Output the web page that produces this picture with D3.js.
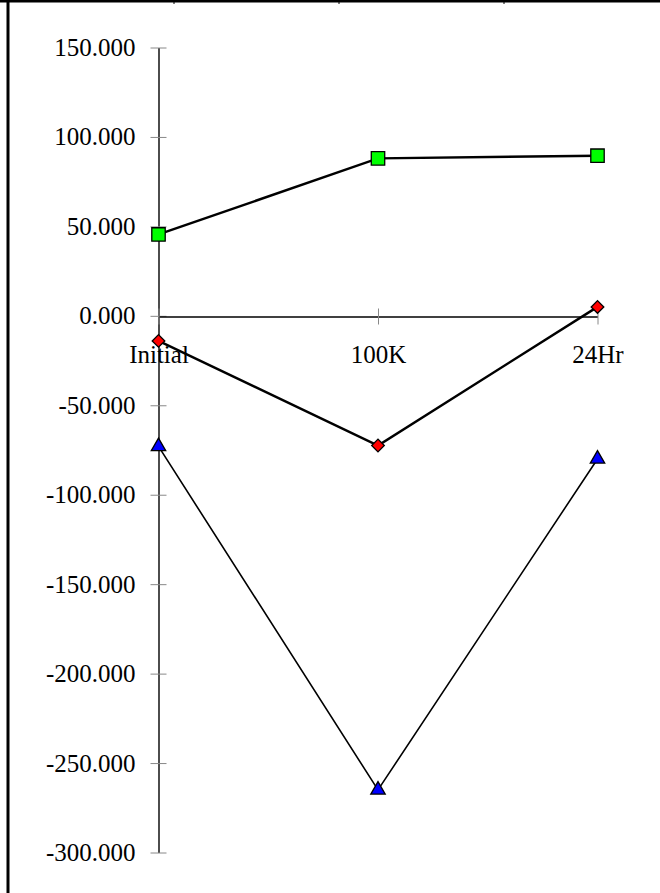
<!DOCTYPE html>
<html>
<head>
<meta charset="utf-8">
<script src="https://cdn.jsdelivr.net/npm/d3@7/dist/d3.min.js"></script>
<style>
  html, body { margin: 0; padding: 0; background: #fff; }
  svg { display: block; }
  .axis text { font-family: "Liberation Serif", "Times New Roman", serif; font-size: 25px; fill: #000; }
</style>
</head>
<body>
<div id="chart"></div>
<script>
var categories = ["Initial", "100K", "24Hr"];
var greenValues = [45.5, 88, 89.5];
var redValues = [-14, -72.5, 5];
var blueValues = [-73, -265, -80];
var yTicks = [150, 100, 50, 0, -50, -100, -150, -200, -250, -300];
var cellMarks = [174, 339, 504];

(function() {
  var W = 660, H = 893, svg, x, y, yAxis, xAxis, series, line, fmt;

  svg = d3.select("#chart").append("svg").attr("width", W).attr("height", H);
  svg.append("rect").attr("width", W).attr("height", H).attr("fill", "#fff");

  // sheet borders
  svg.append("line").attr("x1", 0).attr("x2", W).attr("y1", 1).attr("y2", 1)
    .attr("stroke", "#000").attr("stroke-width", 3);
  svg.append("line").attr("x1", 8).attr("x2", 8).attr("y1", 0).attr("y2", H)
    .attr("stroke", "#000").attr("stroke-width", 3);
  svg.selectAll(".cell-mark").data(cellMarks).enter().append("line")
    .attr("class", "cell-mark")
    .attr("x1", function(d) { return d; }).attr("x2", function(d) { return d; })
    .attr("y1", 0).attr("y2", 4).attr("stroke", "#000").attr("stroke-width", 1);

  x = d3.scalePoint().domain(categories).range([158.5, 597.5]);
  y = d3.scaleLinear().domain([-300, 150]).range([852.5, 47.5]);

  // plain hyphen instead of d3's unicode minus
  fmt = d3.formatLocale({ decimal: ".", thousands: ",", grouping: [3], currency: ["", ""], minus: "-" }).format(".3f");

  yAxis = d3.axisLeft(y).tickValues(yTicks).tickFormat(fmt)
    .tickSizeInner(8).tickSizeOuter(0).tickPadding(15);
  svg.append("g").attr("class", "axis").attr("transform", "translate(" + x(categories[0]) + ",0)")
    .call(yAxis)
    .call(function(g) {
      g.select(".domain").attr("stroke", "#000").attr("stroke-width", 1.4);
      g.selectAll(".tick line").attr("x1", 8).attr("x2", -8).attr("stroke", "#888");
    });

  xAxis = d3.axisBottom(x).tickSizeInner(8).tickSizeOuter(0).tickPadding(21);
  svg.append("g").attr("class", "axis").attr("transform", "translate(0," + (Math.round(y(0)) + 0.5) + ")")
    .call(xAxis)
    .call(function(g) {
      g.select(".domain").attr("stroke", "#000").attr("stroke-width", 1.4);
      g.selectAll(".tick line").attr("y1", -8).attr("y2", 8).attr("stroke", "#888");
    });

  series = [
    { values: blueValues, color: "#0000ff", shape: d3.symbolTriangle, size: 90, width: 1.6 },
    { values: redValues, color: "#ff0000", shape: d3.symbolDiamond, size: 80, width: 2.4, rotate: true },
    { values: greenValues, color: "#00ff00", shape: d3.symbolSquare, size: 180, width: 2.4 }
  ];

  line = d3.line()
    .x(function(d, i) { return x(categories[i]); })
    .y(function(d) { return y(d); });

  series.forEach(function(s) {
    svg.append("path").datum(s.values).attr("d", line)
      .attr("fill", "none").attr("stroke", "#000").attr("stroke-width", s.width);
  });

  series.forEach(function(s) {
    var sym = d3.symbol().type(s.rotate ? d3.symbolSquare : s.shape).size(s.size);
    svg.append("g").selectAll("path").data(s.values).enter().append("path")
      .attr("d", sym)
      .attr("transform", function(d, i) {
        return "translate(" + x(categories[i]) + "," + y(d) + ")" + (s.rotate ? " rotate(45)" : "");
      })
      .attr("fill", s.color).attr("stroke", "#000").attr("stroke-width", 1.3);
  });
})();
</script>
</body>
</html>
